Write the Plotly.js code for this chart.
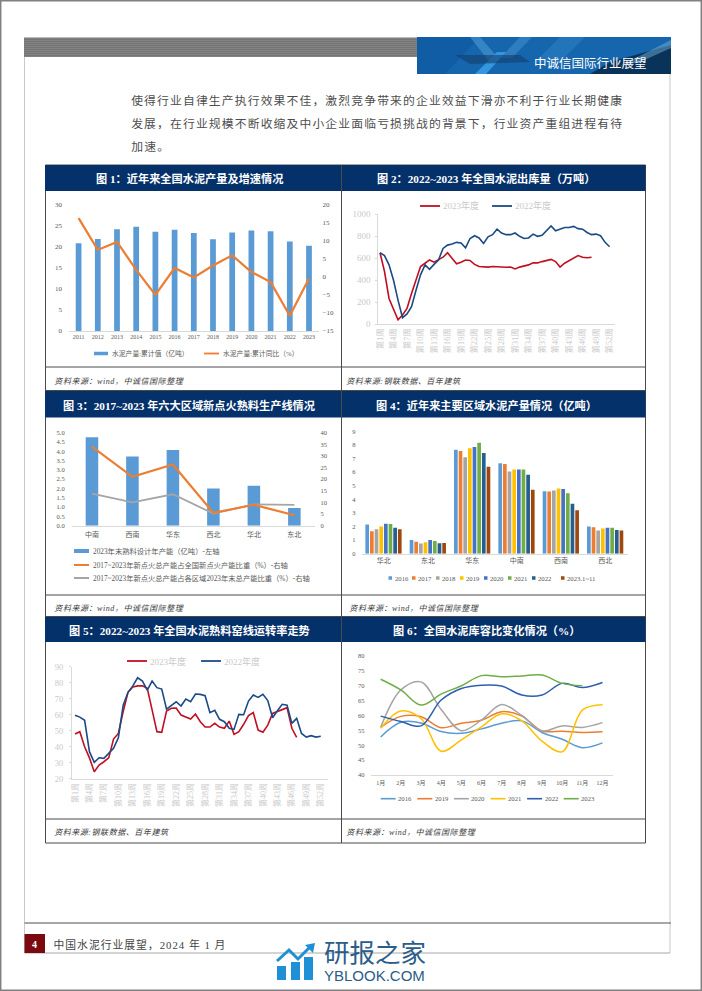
<!DOCTYPE html>
<html><head><meta charset="utf-8">
<script src="https://cdn.plot.ly/plotly-3.0.1.min.js"></script>
<style>html,body{margin:0;padding:0;background:#fff}</style></head>
<body><div id="page" style="width:702px;height:991px"></div>
<script>
// ---- data ----
const years1 = ['2011','2012','2013','2014','2015','2016','2017','2018','2019','2020','2021','2022','2023'];
const output1 = [20.8,21.8,24.1,24.7,23.5,24.0,23.2,21.7,23.3,23.8,23.6,21.2,20.2];
const growth1 = [16.2,7.4,9.6,1.9,-5,2.4,-0.2,3.1,5.9,1.3,-1.5,-10.8,-0.5];

const weeks = ['第1周','第2周','第3周','第4周','第5周','第6周','第7周','第8周','第9周','第10周','第11周','第12周','第13周','第14周','第15周','第16周','第17周','第18周','第19周','第20周','第21周','第22周','第23周','第24周','第25周','第26周','第27周','第28周','第29周','第30周','第31周','第32周','第33周','第34周','第35周','第36周','第37周','第38周','第39周','第40周','第41周','第42周','第43周','第44周','第45周','第46周','第47周','第48周','第49周','第50周','第51周','第52周'];
const shipment2023 = [650,480,235,130,40,85,145,280,400,525,555,585,565,585,610,650,600,550,565,585,580,545,525,520,520,525,522,520,518,520,503,520,530,540,560,558,570,580,590,570,520,555,580,605,625,610,605,610];
const shipment2022 = [650,625,540,400,220,60,95,160,310,450,540,500,545,585,690,720,730,745,740,695,780,805,785,735,795,815,865,830,815,815,830,800,780,785,820,800,810,855,895,850,865,880,880,890,870,865,835,815,820,805,745,705];

const regions3 = ['中南','西南','华东','西北','华北','东北'];
const capacity3 = [4.75,3.72,4.07,2.0,2.15,0.95];
const shareNational3 = [34,21,26.3,5.5,9,4.5];
const shareRegional3 = [13.8,10,13.5,5.2,9.2,9];

const regions4 = ['华北','东北','华东','中南','西南','西北'];
const y2016 = [2.15,1.0,7.65,6.65,4.6,2.0];
const y2017 = [1.65,0.88,7.55,6.6,4.58,1.95];
const y2018 = [1.8,0.75,7.1,6.05,4.65,1.7];
const y2019 = [2.0,0.85,7.75,6.2,4.8,1.85];
const y2020 = [2.2,1.0,7.85,6.2,4.75,1.9];
const y2021 = [2.18,0.93,8.15,6.2,4.45,1.9];
const y2022 = [1.9,0.77,7.4,5.8,3.67,1.75];
const y2023 = [1.8,0.78,6.4,4.7,3.2,1.7];
const seriesNames4 = ['2016','2017','2018','2019','2020','2021','2022','2023.1~11'];

const kiln2023 = [47.9,49.4,40,33,24.4,28.5,30.6,33,44.8,48.3,62,74,77.3,78,78,76.5,63,49.4,49,62.3,64,64.2,59.8,58.5,57.3,60.4,55.6,52.3,52.3,54.6,52.3,51.5,56,47.7,49.4,54,59.4,61.3,50.4,49,53.5,60.8,61.9,63.3,64.4,51.5,45.8];
const kiln2022 = [59.6,58.5,56.5,36.9,30.2,33.1,32.7,35.6,39,45.6,66,74,78,83.1,81,75.4,81,76.9,76,63.5,65.6,68.1,65.4,69.8,68.1,72.9,72.7,71.9,61.3,62.7,57.1,55.6,51.5,50.8,60.2,60,68.5,72.3,70.8,72.7,68.8,58.1,62.5,66.5,66,54.6,57.7,48.3,46,46.9,46,46.5];

const months = ['1月','2月','3月','4月','5月','6月','7月','8月','9月','10月','11月','12月'];
const ratio2016 = [52.8,57.7,57.5,54.6,54,55.5,57.4,58.2,54.3,52,49.2,50.8];
const ratio2019 = [56,59.7,59.6,55.9,57.4,58.4,61.3,59.8,54.8,54.7,54.3,54.5];
const ratio2020 = [56,68.6,71.3,62,54.9,58.5,63.7,60,54.8,56.5,56,57.6];
const ratio2021 = [55.7,61.5,59,48,51.8,56.2,60.6,58.2,51.4,47.8,61.8,63.6];
const ratio2022 = [59.8,58,56.5,65.2,69.1,70.2,69.9,66.9,66.9,70.8,69.4,71.1];
const ratio2023 = [72.2,68.6,63.5,67.2,70,73.4,73,73.3,73.6,70.8,70];

// ---- helpers ----
const W=702,H=991;
const X=x=>x/W, Y=y=>1-y/H;
const SERIF='"Liberation Serif","Noto Sans CJK SC",serif';
const CJK='"Noto Sans CJK SC",sans-serif';
const GREY='#595959', LIGHT='#c9c9c9';
const BLUE='#5B9BD5', ORANGE='#ED7D31', MID='#A5A5A5', RED='#C00F23', NAVY='#1B4A87';
const domX=(a,b)=>[a/W,b/W], domY=(t,b)=>[1-b/H,1-t/H];
const shapes=[], notes=[], spaced=[];
const rect=(x0,y0,x1,y1,fill,lineColor,lw,layer)=>shapes.push({type:'rect',xref:'paper',yref:'paper',x0:X(x0),x1:X(x1),y0:Y(y0),y1:Y(y1),fillcolor:fill||'rgba(0,0,0,0)',line:{color:lineColor||'rgba(0,0,0,0)',width:lineColor?(lw||1):0},layer:layer||'below'});
const seg=(x0,y0,x1,y1,c,lw,layer)=>shapes.push({type:'line',xref:'paper',yref:'paper',x0:X(x0),x1:X(x1),y0:Y(y0),y1:Y(y1),line:{color:c,width:lw||1},layer:layer||'below'});
const poly=(pts,fill,op,layer)=>shapes.push({type:'path',xref:'paper',yref:'paper',path:'M'+pts.map(p=>X(p[0]).toFixed(5)+','+Y(p[1]).toFixed(5)).join('L')+'Z',fillcolor:fill,opacity:op==null?1:op,line:{width:0},layer:layer||'below'});
const polyline=(pts,c,lw,layer)=>shapes.push({type:'path',xref:'paper',yref:'paper',path:'M'+pts.map(p=>X(p[0]).toFixed(5)+','+Y(p[1]).toFixed(5)).join('L'),line:{color:c,width:lw},layer:layer||'below'});
// a spaced text is measured by the library before the CSS applies and stays centred on its box, so start it half the added width further right
const text=(x,y,t,o)=>{o=o||{};let px=x;if(o.spacing){spaced.push([notes.length,o.spacing]);px=x+t.length*o.spacing/2;}notes.push({xref:'paper',yref:'paper',x:X(px),y:Y(y),text:t,showarrow:false,xanchor:o.anchor||'left',yanchor:'middle',borderpad:0,font:{family:o.family||SERIF,size:o.size||8,color:o.color||'#333',weight:o.weight||'normal',style:o.style||'normal'}});};
const legLine=(x0,x1,y,c,lw)=>seg(x0,y,x1,y,c,lw);
const legBar=(x0,x1,y,h,c)=>rect(x0,y-h/2,x1,y+h/2,c);

// ---- page furniture ----
rect(0.7,0.7,701.3,990.3,null,'#808080',1.5);
seg(24.5,57,24.5,953,'#c9c9c9',1);
seg(670,74,670,953,'#c9c9c9',1);
seg(24.5,953,670,953,'#a8a8a8',1.2);
seg(24.5,923,671,923,'#8a8a8a',1.3);
rect(24,37.5,417,57,'#757575');
for(let y=38.5;y<57;y+=2) seg(24,y,417,y,'#858585',0.8);
rect(417,37,671,74,'#1566ad');
poly([[417,37],[480,37],[445,74],[417,74]],'#0f5aa3',0.8);
poly([[470,37],[480,37],[500,60],[488,60]],'#4b9ad6',0.6);
poly([[520,37],[532,37],[512,58],[500,58]],'#4b9ad6',0.45);
poly([[560,37],[585,37],[560,62],[535,62]],'#3a8bcb',0.4);
poly([[475,74],[497,52],[506,52],[486,74]],'#38a0e8',0.85);
poly([[455,55],[520,55],[530,62],[470,64]],'#123f6b',0.6);
poly([[671,45],[671,74],[590,74],[610,62]],'#0a2f52',0.92);
poly([[620,66],[671,40],[671,48],[640,62]],'#7fb7de',0.45);
rect(45.5,165,645.5,843,null,'#4a4a4a',1);
[[165,191],[391,417.5],[617,642]].forEach(r=>rect(45,r[0],645.5,r[1],'#05316B'));
seg(341.5,165,341.5,843,'#4a4a4a',1);
[367,595,819].forEach(y=>seg(45.5,y,645.5,y,'#4a4a4a',1));
seg(45.5,390.5,645.5,390.5,'#4a4a4a',1);
seg(45.5,616.5,645.5,616.5,'#4a4a4a',1);
rect(24.5,934,45,953,'#7A0A0F');

// page text
text(533,63,'中诚信国际行业展望',{family:CJK,size:12.5,color:'#fff'});
['使得行业自律生产执行效果不佳，激烈竞争带来的企业效益下滑亦不利于行业长期健康',
 '发展，在行业规模不断收缩及中小企业面临亏损挑战的背景下，行业资产重组进程有待',
 '加速。'].forEach((t,i)=>text(130,100+i*23,t,{family:CJK,size:11.8,color:'#4d4d4d',spacing:1.15}));
[[189,179,'图 1：近年来全国水泥产量及增速情况'],[486,179,'图 2：2022~2023 年全国水泥出库量（万吨）'],
 [189,405,'图 3：2017~2023 年六大区域新点火熟料生产线情况'],[486,405,'图 4：近年来主要区域水泥产量情况（亿吨）'],
 [189,630,'图 5：2022~2023 年全国水泥熟料窑线运转率走势'],[486,630,'图 6：全国水泥库容比变化情况（%）']]
 .forEach(a=>text(a[0],a[1],a[2],{anchor:'center',size:11.2,color:'#fff',weight:'bold'}));
[[53,381,'资料来源：wind，中诚信国际整理'],[345,381,'资料来源:钢联数据、百年建筑'],
 [53,608,'资料来源：wind，中诚信国际整理'],[348,608,'资料来源：wind，中诚信国际整理'],
 [53,832,'资料来源:钢联数据、百年建筑'],[345,832,'资料来源：wind，中诚信国际整理']]
 .forEach(a=>text(a[0],a[1],a[2],{size:8,style:'italic',color:'#3a3a3a',spacing:0.55}));
text(34.7,944,'4',{anchor:'center',size:10,color:'#fff',weight:'bold'});
text(52,944.5,'中国水泥行业展望，2024 年 1 月',{size:10.8,color:'#444',spacing:1});

// watermark
rect(277,966,286,980,'#1F8FD6',null,0,'above');
rect(291,962,300,980,'#1F8FD6',null,0,'above');
rect(304,957,313,980,'#1F8FD6',null,0,'above');
polyline([[277,961],[289,950],[298,959],[310,947]],'#1F8FD6',3,'above');
poly([[305,945],[315,943],[313,953]],'#1F8FD6',1,'above');
text(323,952.5,'研报之家',{family:'"Liberation Sans","Noto Sans CJK SC",sans-serif',size:25.5,color:'#2B5C8A'});
text(323,975,'YBLOOK.COM',{family:'"Liberation Sans",sans-serif',size:15,color:'#2B5C8A'});

// legends (drawn to the reference's compact swatch sizes)
legBar(94,108,353.5,3.5,BLUE); text(111,353.5,'水泥产量:累计值（亿吨）',{size:6.8,color:GREY});
legLine(204,219,353.5,ORANGE,1.8); text(222,353.5,'水泥产量:累计同比（%）',{size:6.8,color:GREY});
legLine(420,440,206,RED,1.8); text(442,206,'2023年度',{size:9,color:LIGHT});
legLine(492,512,206,NAVY,1.8); text(514,206,'2022年度',{size:9,color:LIGHT});
legBar(74,89,551,4,BLUE); text(92,551,'2023年末熟料设计年产能（亿吨）-左轴',{size:7.3,color:GREY});
legLine(74,89,565,ORANGE,2); text(92,565,'2017~2023年新点火总产能占全国新点火产能比重（%）-右轴',{size:7.3,color:GREY});
legLine(74,89,578,MID,2); text(92,578,'2017~2023年新点火总产能占各区域2023年末总产能比重（%）-右轴',{size:7.3,color:GREY});
const colors4=['#5B9BD5','#ED7D31','#A5A5A5','#FFC000','#4472C4','#70AD47','#255E91','#9E480E'];
[388.5,412,436,460,484,508,532,561].forEach((x,i)=>{legBar(x,x+3.5,578,3.5,colors4[i]);text(x+5,578,seriesNames4[i],{size:6.7,color:GREY});});
legLine(127,147,661,RED,1.8); text(149,661,'2023年度',{size:9,color:LIGHT});
legLine(201,221,661,NAVY,1.8); text(223,661,'2022年度',{size:9,color:LIGHT});
const colors6=['#5B9BD5','#ED7D31','#A5A5A5','#FFC000','#2E5FAE','#70AD47'];
['2016','2019','2020','2021','2022','2023'].forEach((n,i)=>{const x=380.7+i*36.6;legLine(x,x+15,798.7,colors6[i],1.6);text(x+16.5,798.7,n,{size:6.7,color:GREY});});

// ---- traces ----
const traces=[
 {type:'bar',x:years1,y:output1,xaxis:'x',yaxis:'y',width:0.3,marker:{color:BLUE},name:'水泥产量:累计值（亿吨）'},
 {type:'scatter',mode:'lines',x:years1,y:growth1,xaxis:'x',yaxis:'y2',line:{color:ORANGE,width:2.2},name:'水泥产量:累计同比（%）'},
 {type:'scatter',mode:'lines',x:weeks,y:shipment2023,xaxis:'x2',yaxis:'y3',line:{color:RED,width:1.6},name:'2023年度'},
 {type:'scatter',mode:'lines',x:weeks,y:shipment2022,xaxis:'x2',yaxis:'y3',line:{color:NAVY,width:1.6},name:'2022年度'},
 {type:'bar',x:regions3,y:capacity3,xaxis:'x3',yaxis:'y4',width:0.31,marker:{color:BLUE},name:'2023年末熟料设计年产能（亿吨）-左轴'},
 {type:'scatter',mode:'lines',x:regions3,y:shareRegional3,xaxis:'x3',yaxis:'y5',line:{color:MID,width:1.8},name:'2017~2023年新点火总产能占各区域2023年末总产能比重（%）-右轴'},
 {type:'scatter',mode:'lines',x:regions3,y:shareNational3,xaxis:'x3',yaxis:'y5',line:{color:ORANGE,width:2.2},name:'2017~2023年新点火总产能占全国新点火产能比重（%）-右轴'}
];
[y2016,y2017,y2018,y2019,y2020,y2021,y2022,y2023].forEach((v,i)=>traces.push({type:'bar',x:regions4,y:v,xaxis:'x4',yaxis:'y6',width:0.083,offset:-0.413+i*0.105,marker:{color:colors4[i]},name:seriesNames4[i]}));
traces.push({type:'scatter',mode:'lines',x:weeks,y:kiln2023,xaxis:'x5',yaxis:'y7',line:{color:RED,width:1.6},name:'2023年度'});
traces.push({type:'scatter',mode:'lines',x:weeks,y:kiln2022,xaxis:'x5',yaxis:'y7',line:{color:NAVY,width:1.6},name:'2022年度'});
[ratio2016,ratio2019,ratio2020,ratio2021,ratio2022,ratio2023].forEach((v,i)=>traces.push({type:'scatter',mode:'lines',x:months,y:v,xaxis:'x6',yaxis:'y8',line:{color:colors6[i],width:1.5,shape:'spline',smoothing:1},name:['2016','2019','2020','2021','2022','2023'][i]}));

// ---- axes ----
const catAxis=(dom,range,anchor,size,color,extra)=>Object.assign({type:'category',domain:dom,range:range,anchor:anchor,fixedrange:true,showgrid:false,zeroline:false,showline:true,linecolor:'#d9d9d9',linewidth:1,ticks:'',tickfont:{family:SERIF,size:size,color:color}},extra||{});
const valAxis=(dom,range,dtick,anchor,size,color,extra)=>Object.assign({domain:dom,range:range,dtick:dtick,tick0:range[0],anchor:anchor,fixedrange:true,showgrid:false,zeroline:false,showline:false,ticks:'',tickfont:{family:SERIF,size:size,color:color}},extra||{});
const weekTicks={tickmode:'linear',tick0:0,dtick:3,tickangle:-90};
const layout={
 width:W,height:H,margin:{l:0,r:0,t:0,b:0,pad:0},autosize:false,showlegend:false,
 paper_bgcolor:'#fff',plot_bgcolor:'rgba(0,0,0,0)',barmode:'overlay',hovermode:false,
 shapes:shapes,annotations:notes,
 xaxis:catAxis(domX(69,318.6),[-0.5,12.5],'y',6,GREY),
 yaxis:valAxis(domY(204.3,331),[0,30],5,'x',7,GREY,{ticklabelstandoff:6}),
 yaxis2:valAxis(domY(204.3,331),[-15,20],5,'x',7,GREY,{overlaying:'y',side:'right',ticklabelstandoff:3}),
 xaxis2:catAxis(domX(378.3,615),[-0.38,52.2],'y3',8.2,LIGHT,weekTicks),
 yaxis3:valAxis(domY(214.3,324.3),[0,1000],200,'x2',9,LIGHT,{showline:true,linecolor:'#d9d9d9',ticks:'outside',ticklen:2,tickcolor:'#d9d9d9',ticklabelstandoff:3}),
 xaxis3:catAxis(domX(71.7,314.6),[-0.5,5.5],'y4',7,GREY,{ticklabelstandoff:2}),
 yaxis4:valAxis(domY(432.7,525.7),[0,5],0.5,'x3',6.5,GREY,{tickformat:'.1f',ticklabelstandoff:6}),
 yaxis5:valAxis(domY(432.7,525.7),[0,40],5,'x3',6.5,GREY,{overlaying:'y4',side:'right',ticklabelstandoff:5}),
 xaxis4:catAxis(domX(361.5,627.5),[-0.5,5.5],'y6',7,GREY),
 yaxis6:valAxis(domY(431.3,553.7),[0,9],1,'x4',6.5,GREY,{ticklabelstandoff:5}),
 xaxis5:catAxis(domX(72,328),[-0.62,52.5],'y7',8,LIGHT,weekTicks),
 yaxis7:valAxis(domY(666.7,778.7),[20,90],10,'x5',8.5,LIGHT,{showline:true,linecolor:'#d9d9d9',ticks:'outside',ticklen:2,tickcolor:'#d9d9d9',ticklabelstandoff:4}),
 xaxis6:catAxis(domX(370.6,612.6),[-0.5,11.5],'y8',6,GREY,{ticklabelstandoff:2}),
 yaxis8:valAxis(domY(656,775),[40,80],5,'x6',6.5,GREY,{ticklabelstandoff:5})
};
// letter-spacing for the page's widely set running text
const css=document.createElement('style');
css.textContent=spaced.map(s=>'.annotation[data-index="'+s[0]+'"] text{letter-spacing:'+s[1]+'px}').join('\n');
document.head.appendChild(css);
Plotly.newPlot('page',traces,layout,{displayModeBar:false,staticPlot:true});
</script></body></html>
